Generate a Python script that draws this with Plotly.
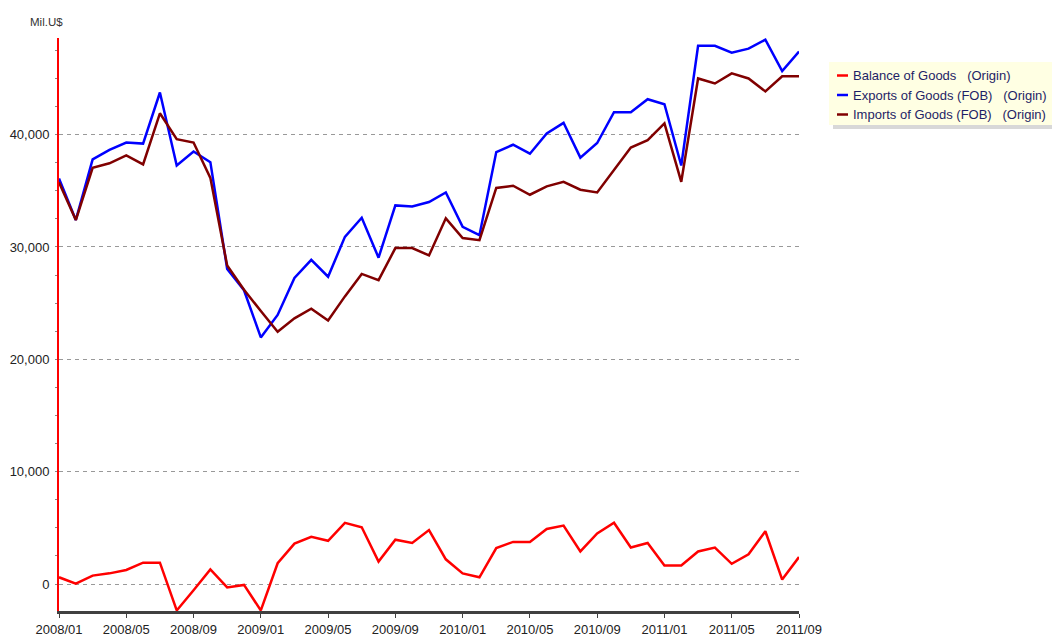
import plotly.graph_objects as go

months = [f"{y}/{m:02d}" for y in range(2008, 2012) for m in range(1, 13)][:45]

exports = [36100, 32400, 37800, 38650, 39300, 39200, 43750, 37250, 38500, 37550,
           28050, 26150, 21950, 23950, 27250, 28850, 27350, 30900, 32600, 29050,
           33700, 33600, 34000, 34850, 31800, 31050, 38450, 39100, 38300, 40100,
           41050, 37950, 39250, 42000, 42000, 43150, 42700, 37250, 47900, 47900,
           47300, 47650, 48450, 45650, 47400]

imports = [35750, 32400, 37050, 37450, 38150, 37350, 41900, 39600, 39300, 36150,
           28350, 26200, 24300, 22450, 23650, 24500, 23450, 25600, 27600, 27050,
           29900, 29900, 29250, 32550, 30800, 30600, 35250, 35450, 34650, 35400,
           35800, 35100, 34850, 36850, 38850, 39500, 41000, 35800, 45000, 44550,
           45450, 45000, 43850, 45200, 45200]

balance = [600, 30, 750, 950, 1250, 1900, 1900, -2350, -550, 1300,
           -300, -80, -2350, 1850, 3600, 4200, 3850, 5450, 5050, 2000,
           3950, 3650, 4800, 2200, 950, 600, 3200, 3750, 3750, 4900,
           5200, 2900, 4500, 5450, 3250, 3650, 1650, 1650, 2900, 3250,
           1800, 2650, 4700, 400, 2400]

series_names = ["Balance of Goods\u00a0\u00a0\u00a0(Origin)",
                "Exports of Goods (FOB)\u00a0\u00a0\u00a0(Origin)",
                "Imports of Goods (FOB)\u00a0\u00a0\u00a0(Origin)"]
series_colors = ["#FF0000", "#0000FF", "#800000"]

x_tick_vals = months[::4]
y_tick_vals = [0, 10000, 20000, 30000, 40000]

FONT = "Liberation Sans, Arial, sans-serif"

fig = go.Figure()
fig.add_trace(go.Scatter(x=months, y=exports, mode="lines", name=series_names[1],
                         line=dict(color=series_colors[1], width=2.5)))
fig.add_trace(go.Scatter(x=months, y=imports, mode="lines", name=series_names[2],
                         line=dict(color=series_colors[2], width=2.5)))
fig.add_trace(go.Scatter(x=months, y=balance, mode="lines", name=series_names[0],
                         line=dict(color=series_colors[0], width=2.5)))

W, H = 1052, 636
ML, MR, MT, MB = 59, 253, 38, 25
PW, PH = W - ML - MR, H - MT - MB

def px(x):
    return (x - ML) / PW

def py(y):
    return (H - MB - y) / PH

shapes = []
annotations = []
# legend box with shadow
shapes.append(dict(type="rect", xref="paper", yref="paper",
                   x0=px(833), x1=px(1056), y0=py(129), y1=py(66),
                   fillcolor="#D8D8D8", line=dict(width=0), layer="above"))
shapes.append(dict(type="rect", xref="paper", yref="paper",
                   x0=px(829), x1=px(1053), y0=py(125), y1=py(62),
                   fillcolor="#FFFFE3", line=dict(width=0), layer="above"))
rows = [75.5, 95, 114.5]
for name, color, ry in zip(series_names, series_colors, rows):
    shapes.append(dict(type="line", xref="paper", yref="paper",
                       x0=px(837), x1=px(848), y0=py(ry), y1=py(ry),
                       line=dict(color=color, width=2.5), layer="above"))
    annotations.append(dict(text=name, xref="paper", yref="paper",
                            x=px(851), y=py(ry), xanchor="left", yanchor="middle",
                            showarrow=False,
                            font=dict(family=FONT, size=13, color="#1E1E66")))

annotations.append(dict(text="Mil.U$", xref="paper", yref="paper",
                        x=px(28), y=py(22), xanchor="left", yanchor="middle",
                        showarrow=False,
                        font=dict(family=FONT, size=11.5, color="#333333")))

fig.update_layout(
    width=W, height=H,
    margin=dict(l=ML, r=MR, t=MT, b=MB, pad=0),
    paper_bgcolor="white", plot_bgcolor="white",
    showlegend=False,
    font=dict(family=FONT, size=13, color="#222222"),
    shapes=shapes, annotations=annotations,
    xaxis=dict(type="category", categoryorder="array", categoryarray=months,
               range=[0, len(months) - 1], automargin=False,
               tickvals=x_tick_vals, ticktext=x_tick_vals,
               showgrid=False, zeroline=False,
               showline=True, linecolor="#404040", linewidth=3,
               ticks="outside", ticklen=4, tickcolor="#404040", tickwidth=1,
               tickfont=dict(family=FONT, size=13, color="#222222")),
    yaxis=dict(range=[-2400, 48600], tickvals=y_tick_vals, automargin=False,
               tickformat=",d",
               showgrid=True, gridcolor="#999999", gridwidth=1, griddash="4px,4px",
               zeroline=False,
               showline=True, linecolor="#FF0000", linewidth=2,
               ticks="outside", ticklen=5, tickcolor="rgba(0,0,0,0)",
               minor=dict(dtick=2500, tick0=0, ticks="outside", ticklen=2,
                          tickcolor="#888888", showgrid=False),
               tickfont=dict(family=FONT, size=13, color="#222222")),
)

fig.write_html("out.html", config={"displayModeBar": False},
               post_script="document.body.style.margin='0';document.body.style.padding='0';")
